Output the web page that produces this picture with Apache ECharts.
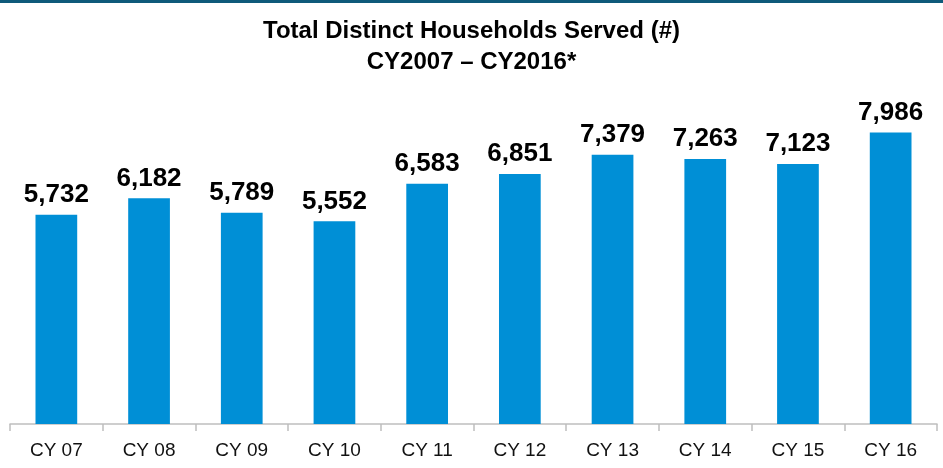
<!DOCTYPE html>
<html>
<head>
    <meta charset="utf-8">
    <title>Total Distinct Households Served</title>
    <script src="https://cdn.jsdelivr.net/npm/echarts@6/dist/echarts.min.js"></script>
    <style>
        html, body { margin: 0; padding: 0; background: #ffffff; }
        #main { width: 943px; height: 468px; }
    </style>
</head>
<body>
<div id="main"></div>
<script>
    // data
    var years = ['CY 07', 'CY 08', 'CY 09', 'CY 10', 'CY 11', 'CY 12', 'CY 13', 'CY 14', 'CY 15', 'CY 16'];
    var households = [5732, 6182, 5789, 5552, 6583, 6851, 7379, 7263, 7123, 7986];
    var titleLines = ['Total Distinct Households Served (#)', 'CY2007 \u2013 CY2016*'];

    var chart = echarts.init(document.getElementById('main'));

    var option = {
        animation: false,
        title: {
            text: titleLines.join('\n'),
            left: 'center',
            top: 11,
            textStyle: {
                fontFamily: '"Liberation Sans", Arial, sans-serif',
                fontSize: 24,
                fontWeight: 'bold',
                color: '#000000',
                lineHeight: 31
            }
        },
        graphic: [{
            type: 'rect',
            left: 0,
            top: 0,
            shape: { width: 943, height: 3 },
            style: { fill: '#0e5a7a' }
        }],
        grid: {
            left: 10,
            right: 6,
            top: 95.5,
            bottom: 44
        },
        xAxis: {
            type: 'category',
            data: years,
            axisLine: { lineStyle: { color: '#bfbfbf', width: 1.5 } },
            axisTick: { show: true, length: 7, lineStyle: { color: '#bfbfbf', width: 1.5 } },
            axisLabel: {
                margin: 17,
                color: '#111111',
                fontSize: 19,
                fontFamily: '"Liberation Sans", Arial, sans-serif'
            }
        },
        yAxis: {
            type: 'value',
            min: 0,
            max: 9000,
            show: false,
            splitLine: { show: false }
        },
        series: [{
            type: 'bar',
            data: households,
            barWidth: '45%',
            itemStyle: { color: '#008fd6' },
            label: {
                show: true,
                position: 'top',
                distance: 7,
                color: '#000000',
                fontSize: 26,
                fontWeight: 'bold',
                fontFamily: '"Liberation Sans", Arial, sans-serif',
                formatter: function (p) {
                    return p.value.toLocaleString('en-US');
                }
            }
        }]
    };

    chart.setOption(option);
</script>
</body>
</html>
